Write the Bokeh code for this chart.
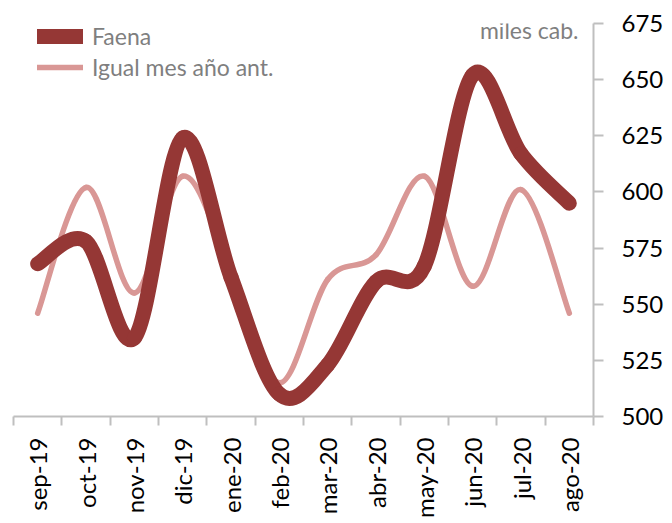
import math
from bokeh.plotting import figure
from bokeh.models import Range1d, FixedTicker, Label, Legend, LegendItem
from bokeh.embed import file_html
from bokeh.resources import INLINE

months = ["sep-19", "oct-19", "nov-19", "dic-19", "ene-20", "feb-20",
          "mar-20", "abr-20", "may-20", "jun-20", "jul-20", "ago-20"]
faena = [568, 578, 535, 624, 562, 510, 523, 560, 567, 652, 617, 595]
igual = [546, 602, 555, 607, 565, 515, 561, 572, 607, 558, 601, 546]
y_ticks = [500, 525, 550, 575, 600, 625, 650, 675]

DARK = "#953735"
PINK = "#D99795"
AXIS = "#BFBFBF"
FONT = "Lato"


def smooth_segments(vals):
    """Catmull-Rom style Bezier segments (like a spreadsheet's smoothed line)."""
    n = len(vals)
    xs = list(range(n))
    out = dict(x0=[], y0=[], x1=[], y1=[], cx0=[], cy0=[], cx1=[], cy1=[])
    for i in range(n - 1):
        xm, ym = xs[max(i - 1, 0)], vals[max(i - 1, 0)]
        xa, ya = xs[i], vals[i]
        xb, yb = xs[i + 1], vals[i + 1]
        xp, yp = xs[min(i + 2, n - 1)], vals[min(i + 2, n - 1)]
        out["x0"].append(xa); out["y0"].append(ya)
        out["x1"].append(xb); out["y1"].append(yb)
        out["cx0"].append(xa + (xb - xm) / 6.0); out["cy0"].append(ya + (yb - ym) / 6.0)
        out["cx1"].append(xb - (xp - xa) / 6.0); out["cy1"].append(yb - (yp - ya) / 6.0)
    return out


W, H = 672, 522
p = figure(width=W, height=H, output_backend="svg", toolbar_location=None,
           x_range=Range1d(-0.5, len(months) - 0.5), y_range=Range1d(500, 675),
           y_axis_location="right", min_border_left=13, min_border_right=W - 593,
           min_border_top=23, min_border_bottom=H - 416)
p.outline_line_color = None
p.xgrid.grid_line_color = None
p.ygrid.grid_line_color = None
p.background_fill_color = "white"
p.border_fill_color = "white"

pink_r = p.bezier(**smooth_segments(igual), line_color=PINK, line_width=5.5, line_cap="round")
dark_r = p.bezier(**smooth_segments(faena), line_color=DARK, line_width=15, line_cap="round")
p.renderers = [pink_r, dark_r]

xa = p.xaxis[0]
xa.ticker = FixedTicker(ticks=list(range(len(months))),
                        minor_ticks=[i - 0.5 for i in range(len(months) + 1)])
xa.major_label_overrides = {i: m for i, m in enumerate(months)}
xa.major_label_orientation = math.pi / 2
xa.major_tick_out = 0
xa.major_tick_in = 0
xa.minor_tick_out = 9
xa.minor_tick_in = 0
xa.minor_tick_line_color = AXIS
xa.minor_tick_line_width = 2
xa.axis_line_color = AXIS
xa.axis_line_width = 2
xa.major_label_text_font = FONT
xa.major_label_text_font_size = "24px"
xa.major_label_text_color = "black"
xa.major_label_standoff = 12

ya = p.yaxis[0]
ya.ticker = FixedTicker(ticks=y_ticks, minor_ticks=[])
ya.major_tick_out = 10
ya.major_tick_in = 0
ya.major_tick_line_color = AXIS
ya.major_tick_line_width = 2
ya.axis_line_color = AXIS
ya.axis_line_width = 2
ya.major_label_text_font = FONT
ya.major_label_text_font_size = "24px"
ya.major_label_text_color = "black"
ya.major_label_standoff = 18

legend = Legend(items=[LegendItem(label="Faena", renderers=[dark_r]),
                       LegendItem(label="Igual mes año ant.", renderers=[pink_r])],
                location=(24, 393 + 2 - 61), orientation="vertical",
                glyph_width=46, glyph_height=30, label_height=30, spacing=1,
                label_standoff=9, padding=0, margin=0,
                label_text_font=FONT, label_text_font_size="23px",
                label_text_color="#7F7F7F", background_fill_alpha=0,
                border_line_color=None)
p.add_layout(legend)

p.add_layout(Label(x=11.19, y=672.0, text="miles cab.", text_align="right",
                   text_baseline="middle", text_font=FONT, text_font_size="23px",
                   text_color="#7F7F7F"))

open("out.html", "w").write(file_html(p, INLINE))
